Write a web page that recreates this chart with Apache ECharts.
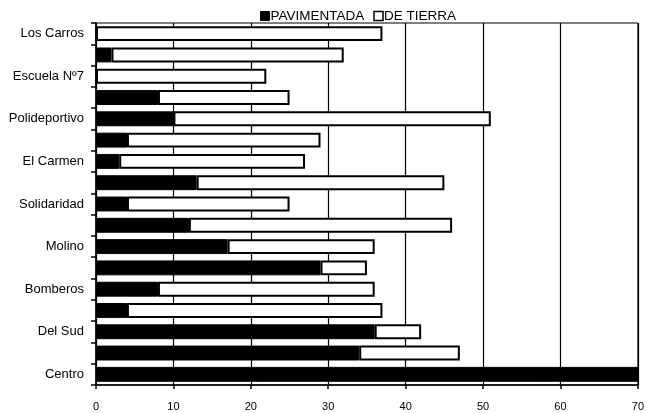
<!DOCTYPE html>
<html>
<head>
<meta charset="utf-8">
<script src="https://cdn.jsdelivr.net/npm/echarts@6/dist/echarts.min.js"></script>
<style>html,body{margin:0;padding:0;background:#fff}#c{width:647px;height:413px}</style>
</head>
<body>
<div id="c"></div>
<script>
// top-to-bottom order
const categories = ['Los Carros', '', 'Escuela Nº7', '', 'Polideportivo', '', 'El Carmen', '', 'Solidaridad', '', 'Molino', '', 'Bomberos', '', 'Del Sud', '', 'Centro'];
const pavimentada = [0, 2, 0, 8, 10, 4, 3, 13, 4, 12, 17, 29, 8, 4, 36, 34, 70];
const deTierra = [37, 30, 22, 17, 41, 25, 24, 32, 21, 34, 19, 6, 28, 33, 6, 13, 0];
const xTicks = [0, 10, 20, 30, 40, 50, 60, 70];

const chart = echarts.init(document.getElementById('c'));
const font = 'Liberation Sans, Arial, Helvetica, sans-serif';
chart.setOption({
  animation: false,
  textStyle: { fontFamily: font },
  legend: {
    left: 255, top: 4,
    itemWidth: 9, itemHeight: 9, itemGap: 9,
    icon: 'rect',
    textStyle: { fontSize: 13.5, color: '#000', fontFamily: font, padding: [0, 0, 0, -4] },
    data: [
      { name: 'PAVIMENTADA', itemStyle: { color: '#000', borderColor: '#000', borderWidth: 1 } },
      { name: 'DE TIERRA', itemStyle: { color: '#fff', borderColor: '#000', borderWidth: 1.5 } }
    ]
  },
  grid: { left: 96, right: 5, top: 23, bottom: 28, show: true, borderColor: '#000', borderWidth: 1 },
  xAxis: {
    type: 'value', min: xTicks[0], max: xTicks[xTicks.length - 1], interval: 10,
    axisLine: { show: true, lineStyle: { color: '#000', width: 1.5 } },
    axisTick: { show: true, length: 4, lineStyle: { color: '#000', width: 1.5 } },
    splitLine: { show: true, lineStyle: { color: '#000', width: 1.2 } },
    axisLabel: { color: '#000', fontSize: 11, margin: 16, fontFamily: font }
  },
  yAxis: {
    type: 'category', inverse: true, data: categories,
    axisLine: { show: true, lineStyle: { color: '#000', width: 1.5 } },
    axisTick: { show: true, length: 5, lineStyle: { color: '#000', width: 1.5 } },
    axisLabel: { color: '#000', fontSize: 13, margin: 12, interval: 0, fontFamily: font },
    splitLine: { show: false }
  },
  series: [
    { name: 'PAVIMENTADA', type: 'bar', stack: 't', data: pavimentada, barCategoryGap: '30%',
      itemStyle: { color: '#000', borderColor: '#000', borderWidth: 1 } },
    { name: 'DE TIERRA', type: 'bar', stack: 't', data: deTierra, barCategoryGap: '30%',
      itemStyle: { color: '#fff', borderColor: '#000', borderWidth: 2 } }
  ]
});
</script>
</body>
</html>
